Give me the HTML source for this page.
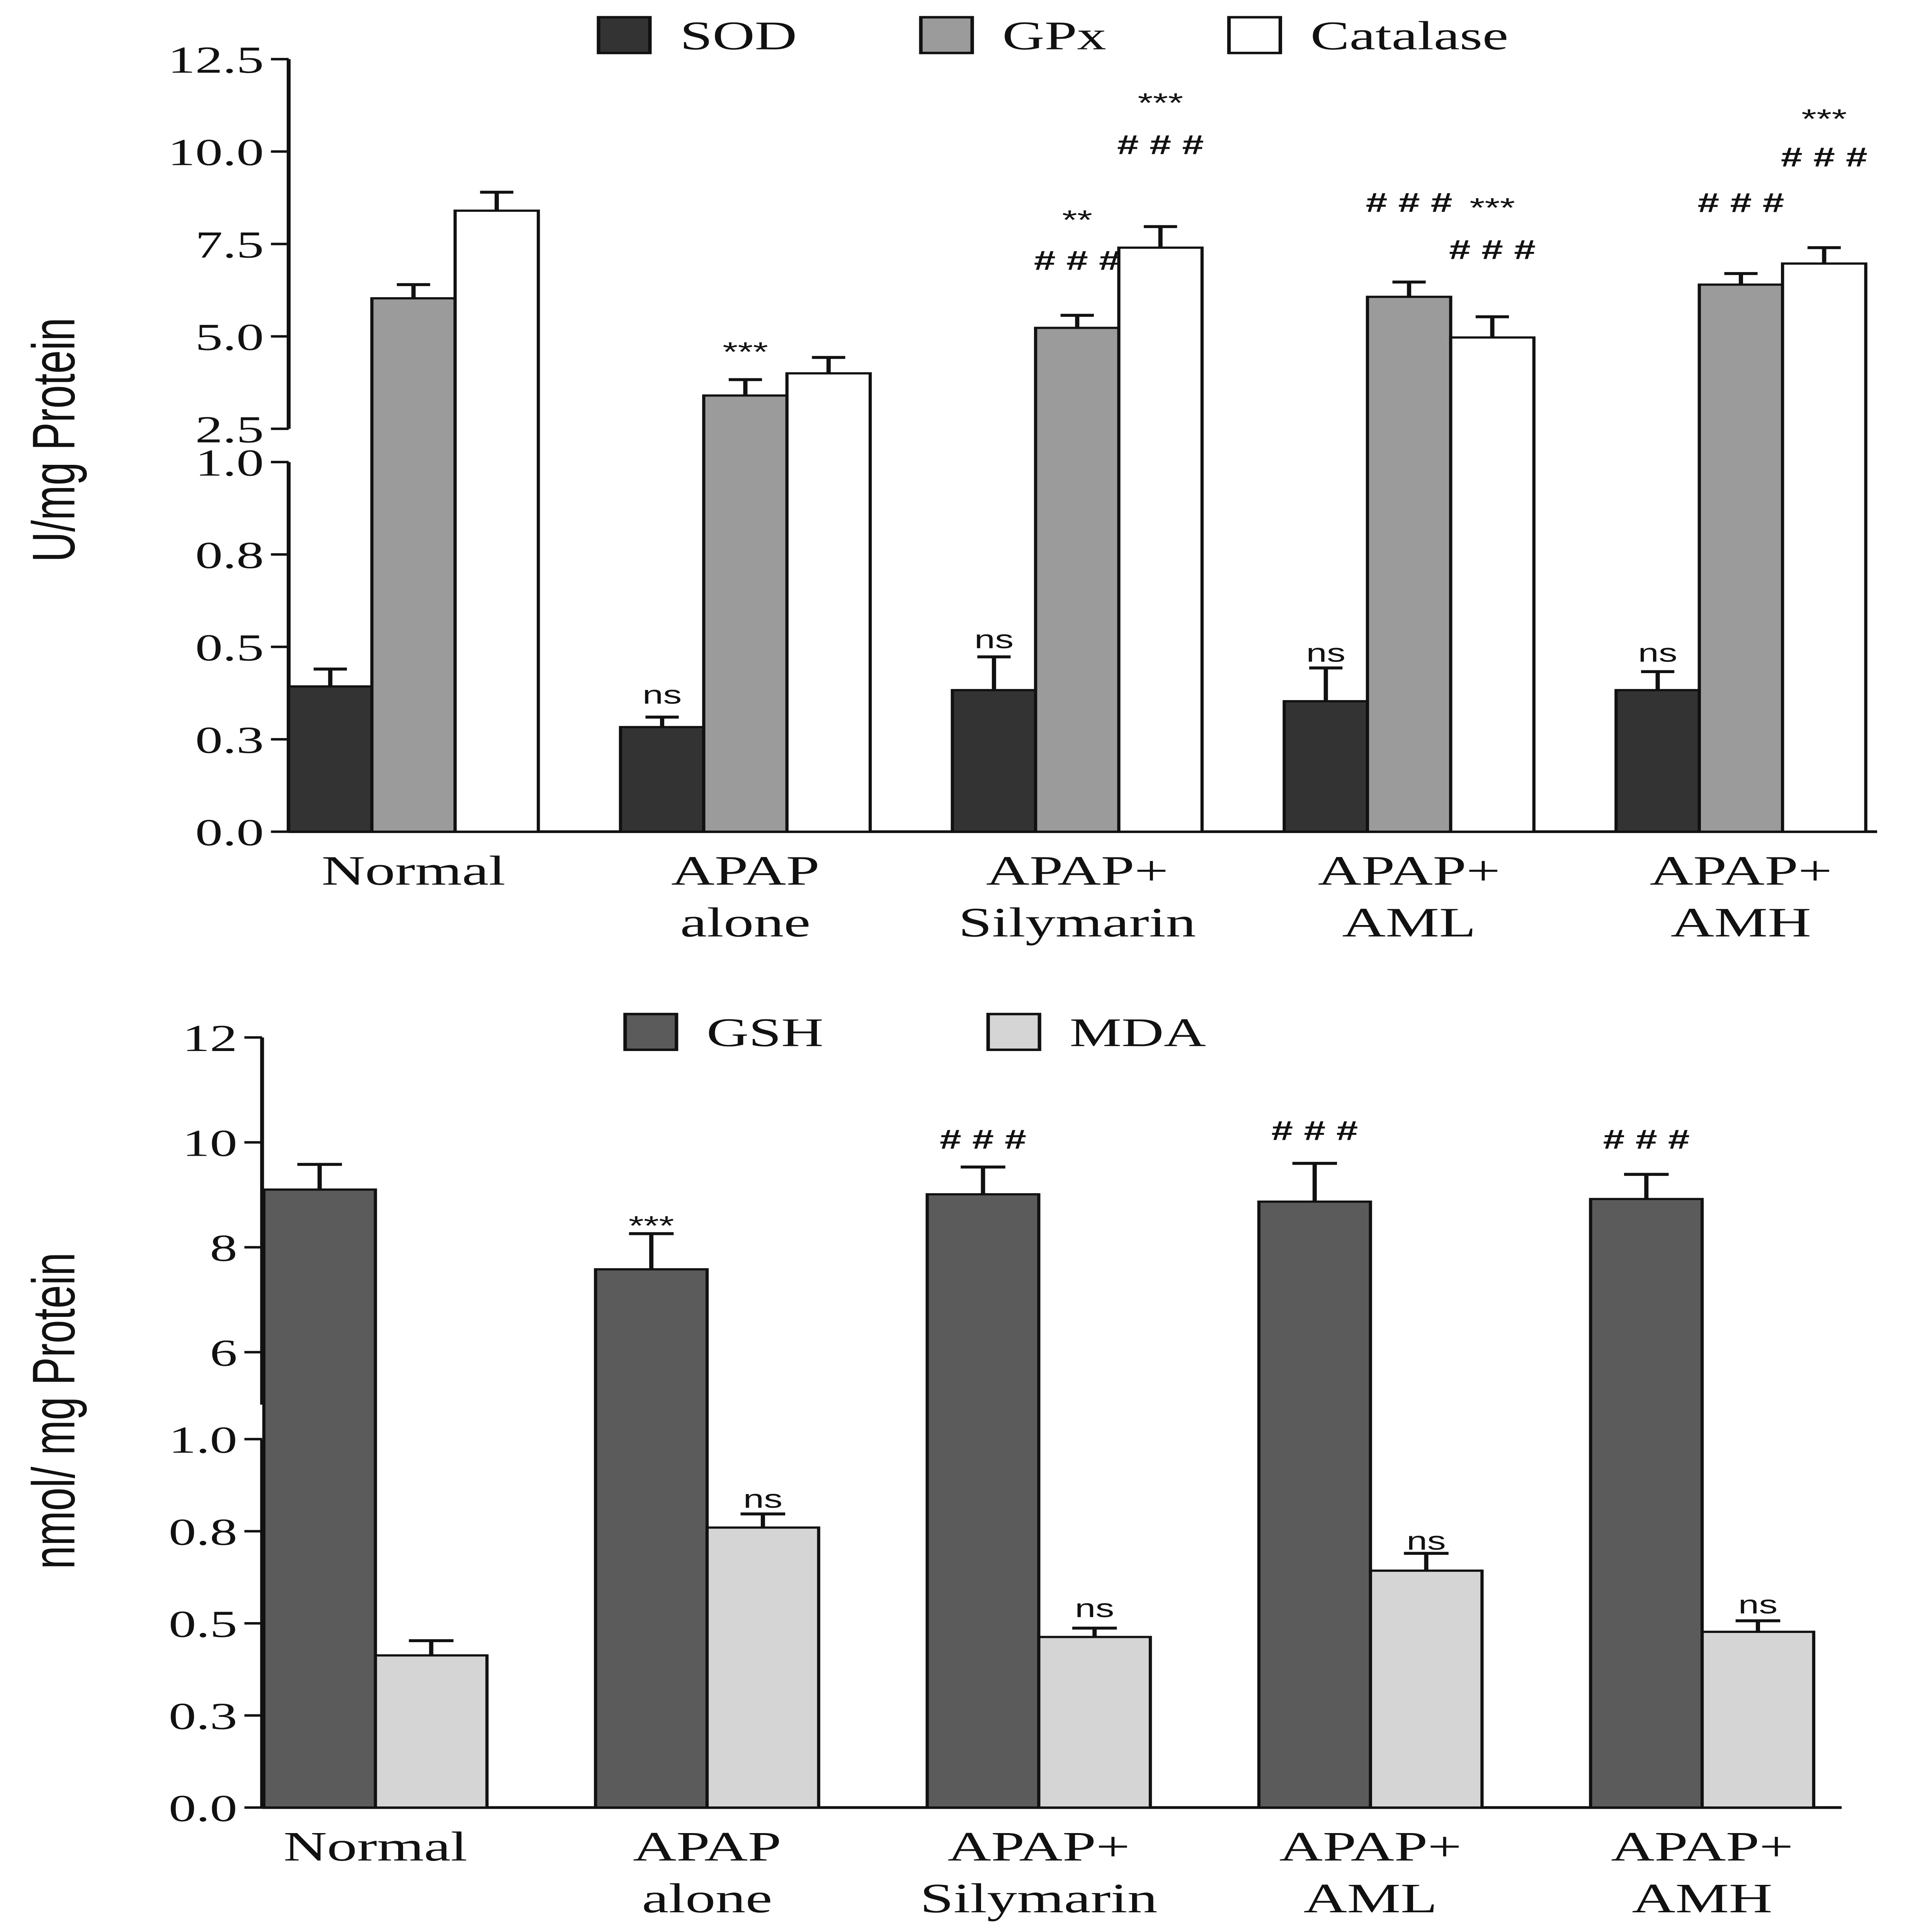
<!DOCTYPE html>
<html><head><meta charset="utf-8">
<style>
html,body{margin:0;padding:0;background:#fff;width:100%;height:100%;overflow:hidden;}
svg{display:block;position:absolute;left:0;top:0;width:100vw;height:100vh;}
</style></head>
<body>
<svg id="chart" xmlns="http://www.w3.org/2000/svg" viewBox="0 0 1091 1568" preserveAspectRatio="none" overflow="hidden"></svg>
<script>
// ---------- Data ----------
const categories = ["Normal", "APAP|alone", "APAP+|Silymarin", "APAP+|AML", "APAP+|AMH"];
const sodValues = [0.393, 0.283, 0.383, 0.353, 0.383];
const sodErrors = [0.047, 0.027, 0.09, 0.09, 0.05];
const gpxValues = [6.03, 3.4, 5.23, 6.07, 6.4];
const gpxErrors = [0.37, 0.43, 0.34, 0.4, 0.3];
const catValues = [8.4, 4.0, 7.4, 4.97, 6.97];
const catErrors = [0.5, 0.43, 0.57, 0.56, 0.43];
const topUpperTicks = [2.5, 5.0, 7.5, 10.0, 12.5];
const topUpperLabels = ["2.5", "5.0", "7.5", "10.0", "12.5"];
const topLowerTicks = [0, 0.25, 0.5, 0.75, 1.0];
const topLowerLabels = ["0.0", "0.3", "0.5", "0.8", "1.0"];

const gshValues = [9.1, 7.58, 9.01, 8.87, 8.92];
const gshErrors = [0.48, 0.68, 0.52, 0.73, 0.47];
const mdaValues = [0.413, 0.76, 0.463, 0.643, 0.477];
const mdaErrors = [0.04, 0.037, 0.024, 0.047, 0.03];
const botUpperTicks = [6, 8, 10, 12];
const botUpperLabels = ["6", "8", "10", "12"];
const botLowerTicks = [0, 0.25, 0.5, 0.75, 1.0];
const botLowerLabels = ["0.0", "0.3", "0.5", "0.8", "1.0"];

// significance annotations: [label, lift above error-bar top]
const sodAnn = [[], [["ns", 18]], [["ns", 14]], [["ns", 12]], [["ns", 15]]];
const gpxAnn = [[], [["***", 26]], [["**", 81], ["###", 44]], [["###", 64]], [["###", 57]]];
const catAnn = [[], [], [["***", 104], ["###", 66]], [["***", 92], ["###", 54]], [["***", 108], ["###", 73]]];
const gshAnn = [[], [["***", 10]], [["###", 22]], [["###", 26]], [["###", 28]]];
const mdaAnn = [[], [["ns", 12]], [["ns", 16]], [["ns", 10]], [["ns", 13]]];

// ---------- Helpers ----------
const svg = document.getElementById('chart');
const NS = "http://www.w3.org/2000/svg";
function mk(tag, attrs, parent) {
  const e = document.createElementNS(NS, tag);
  for (const k in attrs) e.setAttribute(k, attrs[k]);
  (parent || svg).appendChild(e);
  return e;
}
function txt(s, x, y, size, family, anchor, parent) {
  const t = mk('text', {x: x, y: y, 'font-size': size, 'font-family': family, 'text-anchor': anchor || 'middle', fill: '#111'}, parent);
  t.textContent = s;
  return t;
}
const SERIF = '"Liberation Serif", serif';
const SANS = '"Liberation Sans", sans-serif';

function makePanel(cfg) {
  const g = mk('g', {});
  
  
  const yUp = v => cfg.upTop + (cfg.upMax - v) * (cfg.upBot - cfg.upTop) / (cfg.upMax - cfg.upMin);
  const yLo = v => cfg.loBot - (v - cfg.loMin) * (cfg.loBot - cfg.loTop) / (cfg.loMax - cfg.loMin);
  const yAny = (v, seg) => seg === 'up' ? yUp(v) : yLo(v);
  const groupX = i => cfg.firstCenter + i * cfg.groupStep;

  const ax = mk('g', {}, g);
  
  
  mk('line', {x1: cfg.axisX, y1: cfg.upTop, x2: cfg.axisX, y2: cfg.upBot, stroke: '#111', 'stroke-width': 2.2}, ax);
  mk('line', {x1: cfg.axisX, y1: cfg.loTop, x2: cfg.axisX, y2: cfg.loBot, stroke: '#111', 'stroke-width': 2.2}, ax);
  cfg.upTicks.forEach((v, i) => {
    const y = yUp(v);
    mk('line', {x1: cfg.axisX - 10, y1: y, x2: cfg.axisX, y2: y, stroke: '#111', 'stroke-width': 2}, ax);
    const t = txt(cfg.upLabels[i], cfg.axisX - 14, y + 11, 31, SERIF, 'end', ax);
    
    
  });
  cfg.loTicks.forEach((v, i) => {
    const y = yLo(v);
    mk('line', {x1: cfg.axisX - 10, y1: y, x2: cfg.axisX, y2: y, stroke: '#111', 'stroke-width': 2}, ax);
    const t = txt(cfg.loLabels[i], cfg.axisX - 14, y + 11, 31, SERIF, 'end', ax);
    
    
  });
  const xa = mk('line', {x1: cfg.axisX, y1: cfg.loBot, x2: cfg.xEnd, y2: cfg.loBot, stroke: '#111', 'stroke-width': 2.2}, g);
  
  
  categories.forEach((c, i) => {
    const parts = c.split('|');
    parts.forEach((p, j) => {
      const t = txt(p, groupX(i), cfg.loBot + 43 + j * 42, 34, SERIF, 'middle', g);
      
      
    });
  });
  const yt = txt(cfg.yTitle, 0, 0, 34, SANS, 'middle', g);
  yt.setAttribute('transform', `translate(${cfg.yTitleX},${cfg.yTitleY}) rotate(-90)`);
  
  

  const ns = cfg.series.length;
  cfg.series.forEach((s, si) => {
    s.values.forEach((v, i) => {
      const x0 = groupX(i) - ns * cfg.barW / 2 + si * cfg.barW;
      const top = yAny(v, s.seg);
      const r = mk('rect', {x: x0, y: top, width: cfg.barW, height: cfg.loBot - top, fill: s.color, stroke: '#111', 'stroke-width': 1.8}, g);
      
      
      const ey = yAny(v + s.errors[i], s.seg);
      const cx = x0 + cfg.barW / 2;
      const eb = mk('path', {d: `M${cx},${top} L${cx},${ey} M${cx - cfg.barW * 0.2},${ey} L${cx + cfg.barW * 0.2},${ey}`, stroke: '#111', 'stroke-width': 2.4, fill: 'none'}, g);
      
      
      s.ann[i].forEach(a => {
        const label = a[0];
        const cy = ey - a[1];
        const isHash = label.indexOf('#') >= 0;
        const isStar = label.indexOf('*') >= 0;
        const t = txt(isHash ? label.split('').join(' ') : label, cx, cy + (isStar ? 11 : 7), label === 'ns' ? 21 : 22, SANS, 'middle', g);
        if (isHash) t.setAttribute('font-weight', 'bold');
        
        
      });
    });
  });
  cfg.legend.forEach(L => {
    const lg = mk('g', {}, g);
    
    
    mk('rect', {x: L.x, y: cfg.legY, width: 29, height: 29, fill: L.color, stroke: '#111', 'stroke-width': 2}, lg);
    txt(L.label, L.x + 46, cfg.legY + 26, 33, SERIF, 'start', lg);
  });
}

makePanel({
  name: 'antioxidant-enzymes-chart',
  axisX: 163, xEnd: 1060,
  upTop: 48, upBot: 348, upMin: 2.5, upMax: 12.5,
  loTop: 375, loBot: 675, loMin: 0, loMax: 1.0,
  upTicks: topUpperTicks, upLabels: topUpperLabels,
  loTicks: topLowerTicks, loLabels: topLowerLabels,
  firstCenter: 233.5, groupStep: 187.4, barW: 47,
  yTitle: 'U/mg Protein', yTitleX: 42, yTitleY: 357,
  series: [
    {key: 'sod', values: sodValues, errors: sodErrors, ann: sodAnn, seg: 'lo', color: '#333333'},
    {key: 'gpx', values: gpxValues, errors: gpxErrors, ann: gpxAnn, seg: 'up', color: '#9b9b9b'},
    {key: 'catalase', values: catValues, errors: catErrors, ann: catAnn, seg: 'up', color: '#ffffff'}
  ],
  legY: 14,
  legend: [{x: 338, label: 'SOD', color: '#333333'}, {x: 520, label: 'GPx', color: '#9b9b9b'}, {x: 694, label: 'Catalase', color: '#ffffff'}]
});

makePanel({
  name: 'gsh-mda-chart',
  axisX: 148, xEnd: 1040,
  upTop: 842, upBot: 1140, upMin: 5.0, upMax: 12,
  loTop: 1168, loBot: 1467, loMin: 0, loMax: 1.0,
  upTicks: botUpperTicks, upLabels: botUpperLabels,
  loTicks: botLowerTicks, loLabels: botLowerLabels,
  firstCenter: 212, groupStep: 187.3, barW: 63,
  yTitle: 'nmol/ mg Protein', yTitleX: 42, yTitleY: 1145,
  series: [
    {key: 'gsh', values: gshValues, errors: gshErrors, ann: gshAnn, seg: 'up', color: '#5b5b5b'},
    {key: 'mda', values: mdaValues, errors: mdaErrors, ann: mdaAnn, seg: 'lo', color: '#d5d5d5'}
  ],
  legY: 823,
  legend: [{x: 353, label: 'GSH', color: '#5b5b5b'}, {x: 558, label: 'MDA', color: '#d5d5d5'}]
});
</script>
</body></html>
